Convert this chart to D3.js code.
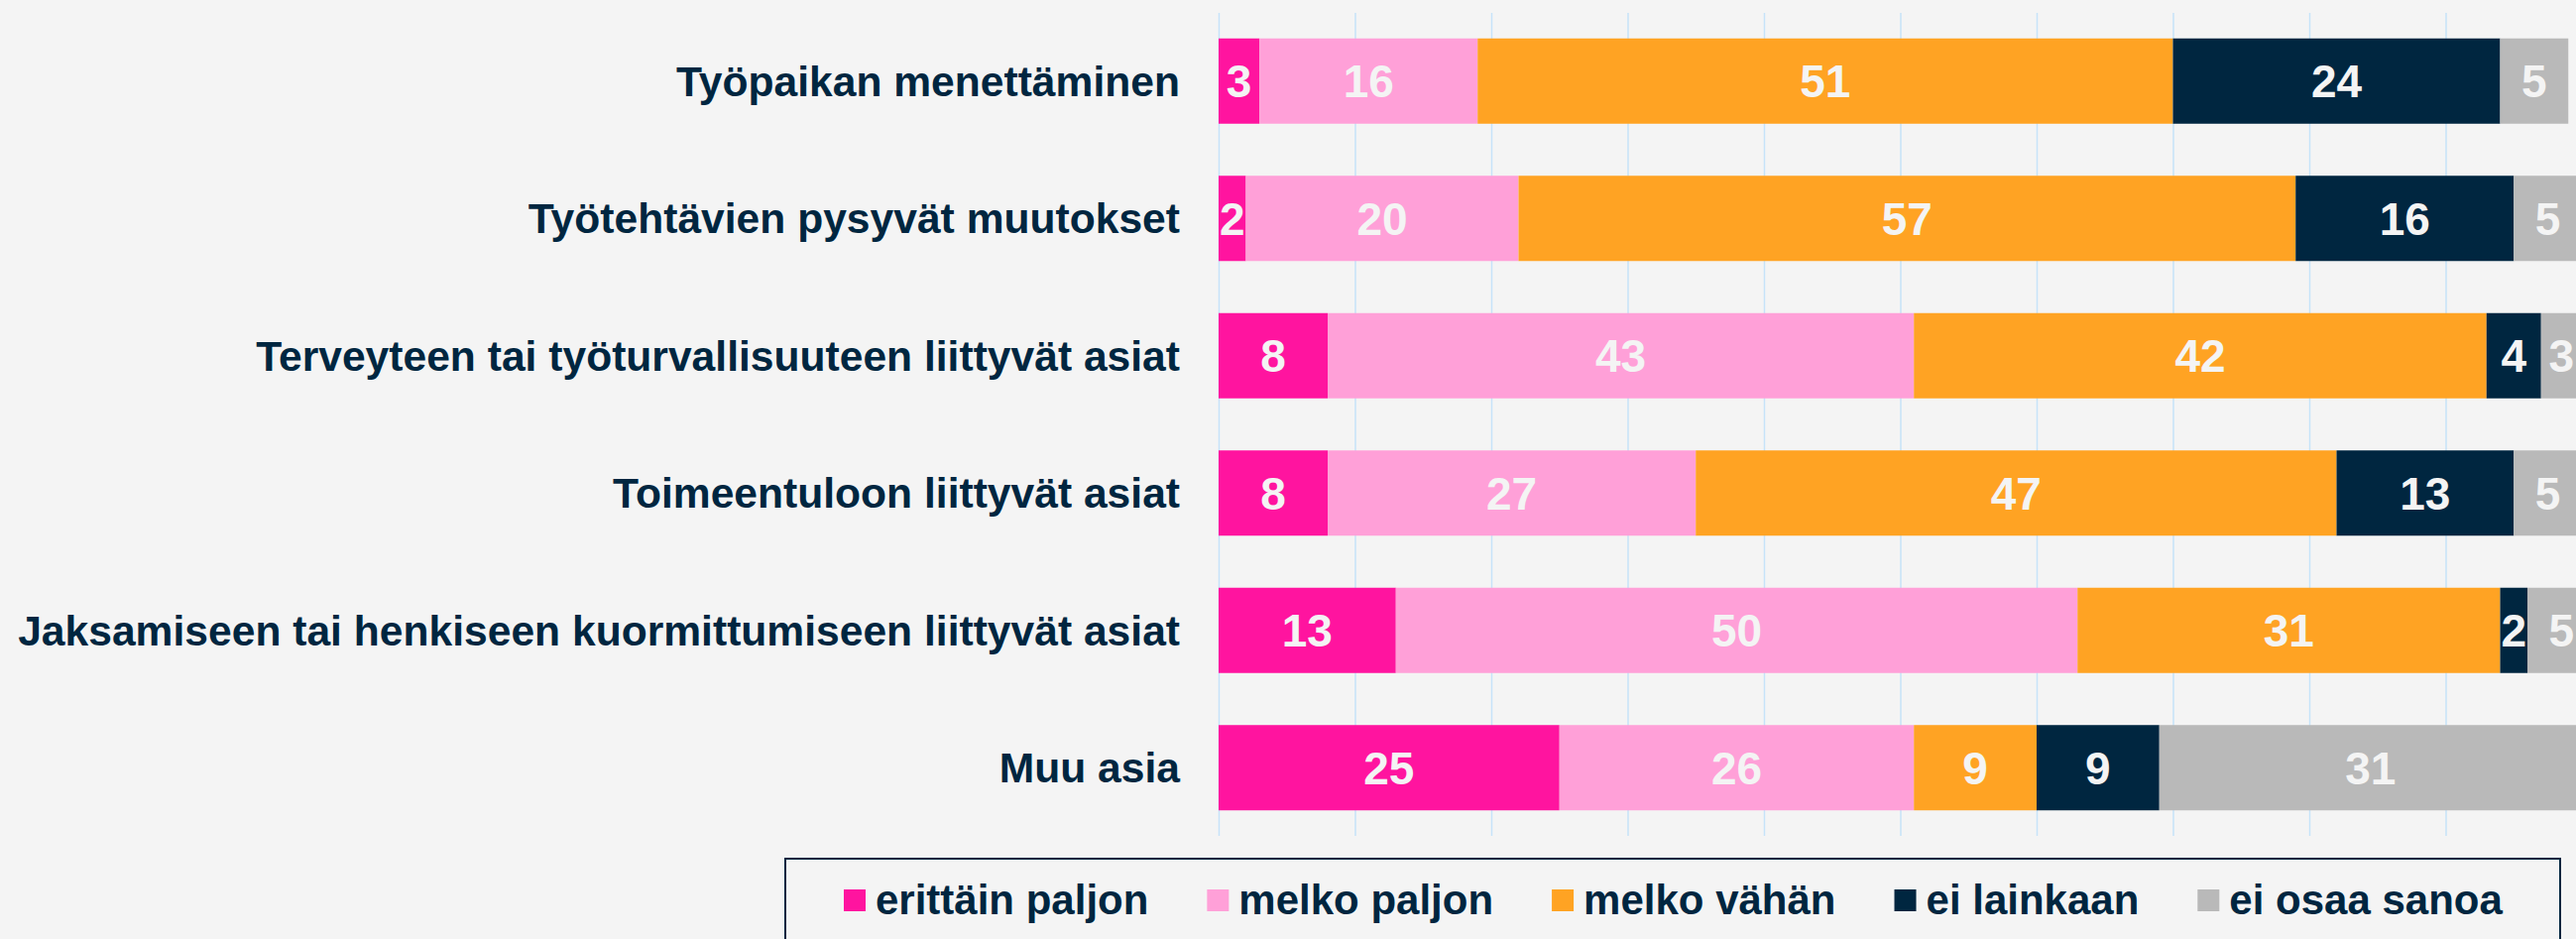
<!DOCTYPE html>
<html>
<head>
<meta charset="utf-8">
<script src="https://cdn.jsdelivr.net/npm/d3@7"></script>
<style>
    html, body { margin: 0; padding: 0; background: #f4f4f4; }
    svg { display: block; font-family: "Liberation Sans", Arial, sans-serif; }
</style>
</head>
<body>
<div id="chart"></div>
<script>
const categories = [
    'Työpaikan menettäminen',
    'Työtehtävien pysyvät muutokset',
    'Terveyteen tai työturvallisuuteen liittyvät asiat',
    'Toimeentuloon liittyvät asiat',
    'Jaksamiseen tai henkiseen kuormittumiseen liittyvät asiat',
    'Muu asia'
];
const seriesNames = ['erittäin paljon', 'melko paljon', 'melko vähän', 'ei lainkaan', 'ei osaa sanoa'];
const erittainPaljon = [3, 2, 8, 8, 13, 25];
const melkoPaljon = [16, 20, 43, 27, 50, 26];
const melkoVahan = [51, 57, 42, 47, 31, 9];
const eiLainkaan = [24, 16, 4, 13, 2, 9];
const eiOsaaSanoa = [5, 5, 3, 5, 5, 31];
const xTicks = [0, 10, 20, 30, 40, 50, 60, 70, 80, 90, 100];

const colors = ['#ff149f', '#ffa0d8', '#ffa323', '#002640', '#b9b9b9'];

const width = 2598;
const height = 947;
const margin = { top: 13, left: 1229, right: -6, bottom: 104 };

const svg = d3.select('#chart')
    .append('svg')
    .attr('width', width)
    .attr('height', height);

svg.append('rect')
    .attr('width', width)
    .attr('height', height)
    .attr('fill', '#f4f4f4');

// build rows for the stack
const allSeries = [erittainPaljon, melkoPaljon, melkoVahan, eiLainkaan, eiOsaaSanoa];
const rows = categories.map((c, i) => {
    const r = { category: c };
    seriesNames.forEach((s, j) => { r[s] = allSeries[j][i]; });
    return r;
});
const stacked = d3.stack().keys(seriesNames)(rows);

const x = d3.scaleLinear()
    .domain([0, 100])
    .range([margin.left, width - margin.right]);

const y = d3.scaleBand()
    .domain(categories)
    .range([margin.top, height - margin.bottom])
    .paddingInner(0.379)
    .paddingOuter(0.186);

// vertical grid lines
svg.append('g')
    .attr('transform', `translate(0, ${height - margin.bottom})`)
    .call(d3.axisBottom(x)
        .tickValues(xTicks)
        .tickSize(-(height - margin.bottom - margin.top))
        .tickFormat('')
    )
    .call(g => g.select('.domain').remove())
    .selectAll('line')
    .attr('stroke', '#c6e3f9')
    .attr('stroke-width', 1.5);

// bars
const layers = svg.append('g')
    .selectAll('g')
    .data(stacked)
    .enter().append('g')
    .attr('fill', (d, i) => colors[i]);

layers.selectAll('rect')
    .data(d => d)
    .enter().append('rect')
    .attr('x', d => x(d[0]))
    .attr('y', d => y(d.data.category))
    .attr('width', d => x(d[1]) - x(d[0]))
    .attr('height', y.bandwidth());

// value labels
layers.selectAll('text')
    .data(d => d)
    .enter().append('text')
    .attr('x', d => (x(d[0]) + x(d[1])) / 2)
    .attr('y', d => y(d.data.category) + y.bandwidth() / 2)
    .attr('dy', '0.36em')
    .attr('text-anchor', 'middle')
    .style('font-size', '46px')
    .style('font-weight', 'bold')
    .style('fill', '#f4f4f4')
    .text(d => d[1] - d[0]);

// category labels
svg.append('g')
    .selectAll('text')
    .data(categories)
    .enter().append('text')
    .attr('x', margin.left - 39)
    .attr('y', d => y(d) + y.bandwidth() / 2)
    .attr('dy', '0.35em')
    .attr('text-anchor', 'end')
    .style('font-size', '42.6px')
    .style('font-weight', 'bold')
    .style('fill', '#002640')
    .text(d => d);

// legend
const legend = svg.append('g');
legend.append('rect')
    .attr('x', 792)
    .attr('y', 866)
    .attr('width', 1790)
    .attr('height', 140)
    .attr('fill', 'none')
    .attr('stroke', '#002640')
    .attr('stroke-width', 2);

let lx = 851;
seriesNames.forEach((s, i) => {
    legend.append('rect')
        .attr('x', lx)
        .attr('y', 897)
        .attr('width', 22)
        .attr('height', 22)
        .attr('fill', colors[i]);
    const t = legend.append('text')
        .attr('x', lx + 32)
        .attr('y', 922)
        .style('font-size', '42px')
        .style('font-weight', 'bold')
        .style('fill', '#002640')
        .text(s);
    lx += 32 + t.node().getComputedTextLength() + 59;
});
</script>
</body>
</html>
